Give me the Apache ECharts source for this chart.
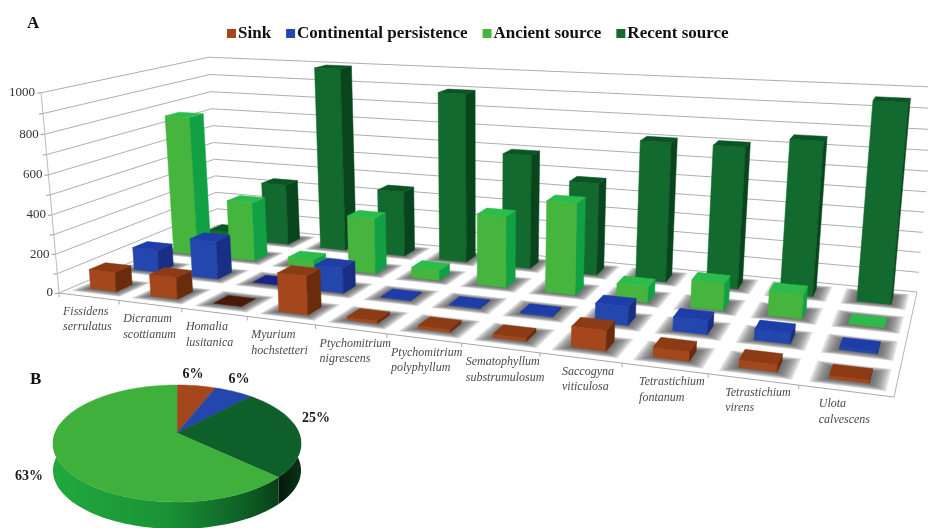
<!DOCTYPE html>
<html><head><meta charset="utf-8">
<style>html,body{margin:0;padding:0;background:#fff}#c{width:928px;height:528px;filter:blur(0.45px)}</style>
<script src="https://cdn.jsdelivr.net/npm/echarts@6/dist/echarts.min.js"></script>
</head><body><div id="c"></div>
<script>
const categories=['Fissidens\nserrulatus','Dicranum\nscottianum','Homalia\nlusitanica','Myurium\nhochstetteri','Ptychomitrium\nnigrescens','Ptychomitrium\npolyphyllum','Sematophyllum\nsubstrumulosum','Saccogyna\nviticulosa','Tetrastichium\nfontanum','Tetrastichium\nvirens','Ulota\ncalvescens'];
const sink=[100,110,2,190,15,15,18,95,45,35,15];
const continental=[120,200,4,130,6,6,8,90,65,50,12];
const ancient=[760,320,40,295,55,365,460,80,135,120,6];
const recent=[40,340,1000,355,900,600,480,710,710,760,960];
const rowNames=['Sink','Continental persistence','Ancient source','Recent source'];
const rows=[sink,continental,ancient,recent];
const yTicks=[0,200,400,600,800,1000];
const pieNames=['Sink','Continental persistence','Recent source','Ancient source'];
const pieValues=[6,6,25,63];
const labelShift=[0,0,0,0,0,0,0,18,13,13,16];

const palette=[
 {front:'#a5471c',side:'#6b2c0e',top:'#8c3b15',flat:'#4a1a08'},
 {front:'#2347ad',side:'#182f85',top:'#1f3da8',flat:'#1a2488'},
 {front:'#45b53e',side:'#12a044',top:'#2cbc4c',flat:'#18a84a'},
 {front:'#126a2e',side:'#08451c',top:'#0b5524',flat:'#0b5524'}
];
const pieColor={'Sink':'#a5471c','Continental persistence':'#2347ad','Recent source':'#0f5f2a','Ancient source':'#40b03c'};
const serif='"Liberation Serif","Times New Roman",serif';

// camera: floor corners and vertical vanishing point
const FL=[59,293],FR=[894,397],BR=[917,292],BL=[218,225],VP=[480,5000],LAM=-0.0408;
const dx1=FR[0]-BR[0],dx2=BL[0]-BR[0],sx=FL[0]-FR[0]+BR[0]-BL[0];
const dy1=FR[1]-BR[1],dy2=BL[1]-BR[1],sy=FL[1]-FR[1]+BR[1]-BL[1];
const den=dx1*dy2-dx2*dy1;
const hg=(sx*dy2-dx2*sy)/den,hh=(dx1*sy-sx*dy1)/den;
const ha=FR[0]-FL[0]+hg*FR[0],hb=BL[0]-FL[0]+hh*BL[0];
const hd=FR[1]-FL[1]+hg*FR[1],he=BL[1]-FL[1]+hh*BL[1];
function proj(u,w,h){
  const l=LAM*h;
  const W=hg*u+hh*w+1+l;
  return [(ha*u+hb*w+FL[0]+l*VP[0])/W,(hd*u+he*w+FL[1]+l*VP[1])/W];
}
const HALF_U=0.215,HALF_W=0.18;
function poly(points,fill,extra){
  return {type:'polygon',shape:{points:points},style:Object.assign({fill:fill,stroke:fill,lineWidth:0.5},extra||{})};
}
function line(a,b,color,width){
  return {type:'line',shape:{x1:a[0],y1:a[1],x2:b[0],y2:b[1]},style:{stroke:color,lineWidth:width||1,fill:null}};
}
function locate(params,api){
  const cs=params.coordSys;
  const pt=api.coord([api.value(0),api.value(1)]);
  return {u:(pt[0]-cs.x)/cs.width,h:(cs.y+cs.height-pt[1])/cs.height,hu:api.size([1,0])[0]/cs.width*HALF_U};
}
function barSeries(row){
  return {
    name:rowNames[row],type:'custom',coordinateSystem:'cartesian2d',z:10-row,clip:false,
    itemStyle:{color:palette[row].front},
    data:rows[row].map((v,i)=>[i,v]),
    renderItem(params,api){
      const p=palette[row],L=locate(params,api),w=(row+.5)/4,dw=HALF_W/4;
      const u0=L.u-L.hu,u1=L.u+L.hu,w0=w-dw,w1=w+dw,h=L.h,v=api.value(1);
      const children=[];
      if(v>=5){
        children.push(poly([proj(u0,w0,0),proj(u1,w0,0),proj(u1,w0,h),proj(u0,w0,h)],p.front));
        children.push(poly([proj(u1,w0,0),proj(u1,w1,0),proj(u1,w1,h),proj(u1,w0,h)],p.side));
      }
      children.push(poly([proj(u0,w0,h),proj(u1,w0,h),proj(u1,w1,h),proj(u0,w1,h)],v<5?p.flat:p.top));
      return {type:'group',children:children};
    }
  };
}
const shadowData=[];
rows.forEach((arr,r)=>arr.forEach((v,i)=>shadowData.push([i,v,r])));
const shadowSeries={
  type:'custom',coordinateSystem:'cartesian2d',z:3,clip:false,silent:true,data:shadowData,
  renderItem(params,api){
    const L=locate(params,api),r=api.value(2),w=(r+.5)/4,ch=[];
    for(let k=9;k>=0;k--){
      const f=1.0+k*0.1,dw=HALF_W*f*1.05/4,hu=L.hu*f;
      ch.push({type:'polygon',shape:{points:[proj(L.u-hu,w-dw,0),proj(L.u+hu,w-dw,0),proj(L.u+hu,w+dw,0),proj(L.u-hu,w+dw,0)]},style:{fill:'rgba(85,85,85,0.17)',lineWidth:0}});
    }
    return {type:'group',children:ch};
  }
};
const frameSeries={
  type:'custom',coordinateSystem:'cartesian2d',z:1,clip:false,silent:true,data:[[0,0]],
  renderItem(params,api){
    const ch=[];
    ch.push(poly([proj(0,0,0),proj(1,0,0),proj(1,1,0),proj(0,1,0)],'#ffffff'));
    for(let v=0;v<=1000;v+=100){
      const h=v/1000,c='#aeaeae';
      ch.push(line(proj(0,0,h),proj(0,1,h),c,1));
      ch.push(line(proj(0,1,h),proj(1,1,h),c,1));
      const a=proj(0,0,h);ch.push(line([a[0]-4,a[1]+0.5],a,'#999',1));
    }
    ch.push(line(proj(0,0,0),proj(0,0,1),'#bbbbbb',1));
    ch.push(line(proj(0,0,0),proj(1,0,0),'#a8a8a8',1));
    ch.push(line(proj(1,0,0),proj(1,1,0),'#b4b4b4',1));
    categories.forEach((t,i)=>{
      const a=proj(i/11,0,0);
      ch.push(line(a,[a[0],a[1]+4],'#aaa',1));
      ch.push({type:'text',style:{text:t,x:a[0]+4+labelShift[i],y:a[1]+11,font:'italic 12px '+serif,fill:'#4a4a4a',lineHeight:15.5,textAlign:'left',textVerticalAlign:'top'}});
    });
    yTicks.forEach(v=>{
      const a=proj(0,0,v/1000);
      ch.push({type:'text',style:{text:String(v),x:a[0]-6,y:a[1],font:'13px '+serif,fill:'#333',textAlign:'right',textVerticalAlign:'middle'}});
    });
    return {type:'group',children:ch};
  }
};
// pie B
const PIE={cx:177,cy:433,a:122,b:56.6,k:0.1795,th:27};
function piePt(deg,dy){
  const r=deg*Math.PI/180,s=Math.sin(r),t=-Math.cos(r),W=1-PIE.k*t;
  return [PIE.cx+PIE.a*s/W,PIE.cy+PIE.b*t/W+(dy||0)];
}
function arc(from,to,dy){
  const n=Math.max(2,Math.ceil(Math.abs(to-from)/2)),out=[];
  for(let i=0;i<=n;i++)out.push(piePt(from+(to-from)*i/n,dy));
  return out;
}
const pieTotal=pieValues.reduce((s,v)=>s+v,0);
const pieSeries={
  type:'custom',coordinateSystem:'none',z:20,silent:true,clip:false,
  data:pieValues.map((v,i)=>[i,v]),
  renderItem(params,api){
    const i=api.value(0);
    let start=0;
    for(let k=0;k<i;k++)start+=pieValues[k]/pieTotal*360;
    const end=start+pieValues[i]/pieTotal*360,name=pieNames[i],ch=[];
    const s0=Math.max(start,80),s1=Math.min(end,280);
    if(s1>s0){
      const top=arc(s0,s1,0),bot=arc(s1,s0,PIE.th);
      const dark=name==='Recent source';
      const fill=dark?{type:'linear',x:0,y:0,x2:1,y2:0,colorStops:[{offset:0,color:'#04180a'},{offset:1,color:'#0b3318'}]}
        :{type:'linear',x:0,y:0,x2:1,y2:0,colorStops:[{offset:0,color:'#22a83e'},{offset:.5,color:'#1a9336'},{offset:.85,color:'#0e5f25'},{offset:1,color:'#093f18'}]};
      ch.push({type:'polygon',shape:{points:top.concat(bot)},style:{fill:fill}});
    }
    ch.push(poly([[PIE.cx,PIE.cy]].concat(arc(start,end,0)),pieColor[name]));
    return {type:'group',children:ch};
  }
};
const pieLabelAnchors=[[193,374],[239,379],[316,418],[29,476]];
const pieLabelSeries={
  type:'custom',coordinateSystem:'none',z:21,silent:true,clip:false,
  data:pieValues.map((v,i)=>[i,v]),
  renderItem(params,api){
    const i=api.value(0),p=pieLabelAnchors[i];
    return {type:'text',style:{text:api.value(1)+'%',x:p[0],y:p[1],font:'bold 14px '+serif,fill:'#1a1a1a',textAlign:'center',textVerticalAlign:'middle'}};
  }
};
const chart=echarts.init(document.getElementById('c'),null,{renderer:'canvas'});
chart.setOption({
  animation:false,backgroundColor:'#ffffff',
  title:[
    {text:'A',left:22,top:10,textStyle:{fontFamily:serif,fontWeight:'bold',fontSize:17,color:'#111'}},
    {text:'B',left:25,top:366,textStyle:{fontFamily:serif,fontWeight:'bold',fontSize:17,color:'#111'}}
  ],
  legend:{data:rowNames,left:222,top:20,icon:'rect',itemWidth:9,itemHeight:9,itemGap:15,selectedMode:false,
    textStyle:{fontFamily:serif,fontWeight:'bold',fontSize:17,color:'#111',padding:[0,0,0,-3]}},
  grid:{left:100,top:100,width:700,height:300,containLabel:false},
  xAxis:{type:'category',data:categories,show:false,boundaryGap:true},
  yAxis:{type:'value',min:0,max:1000,interval:200,show:false},
  series:[frameSeries,shadowSeries].concat(rows.map((_,r)=>barSeries(r)),[pieSeries,pieLabelSeries])
});
</script></body></html>
